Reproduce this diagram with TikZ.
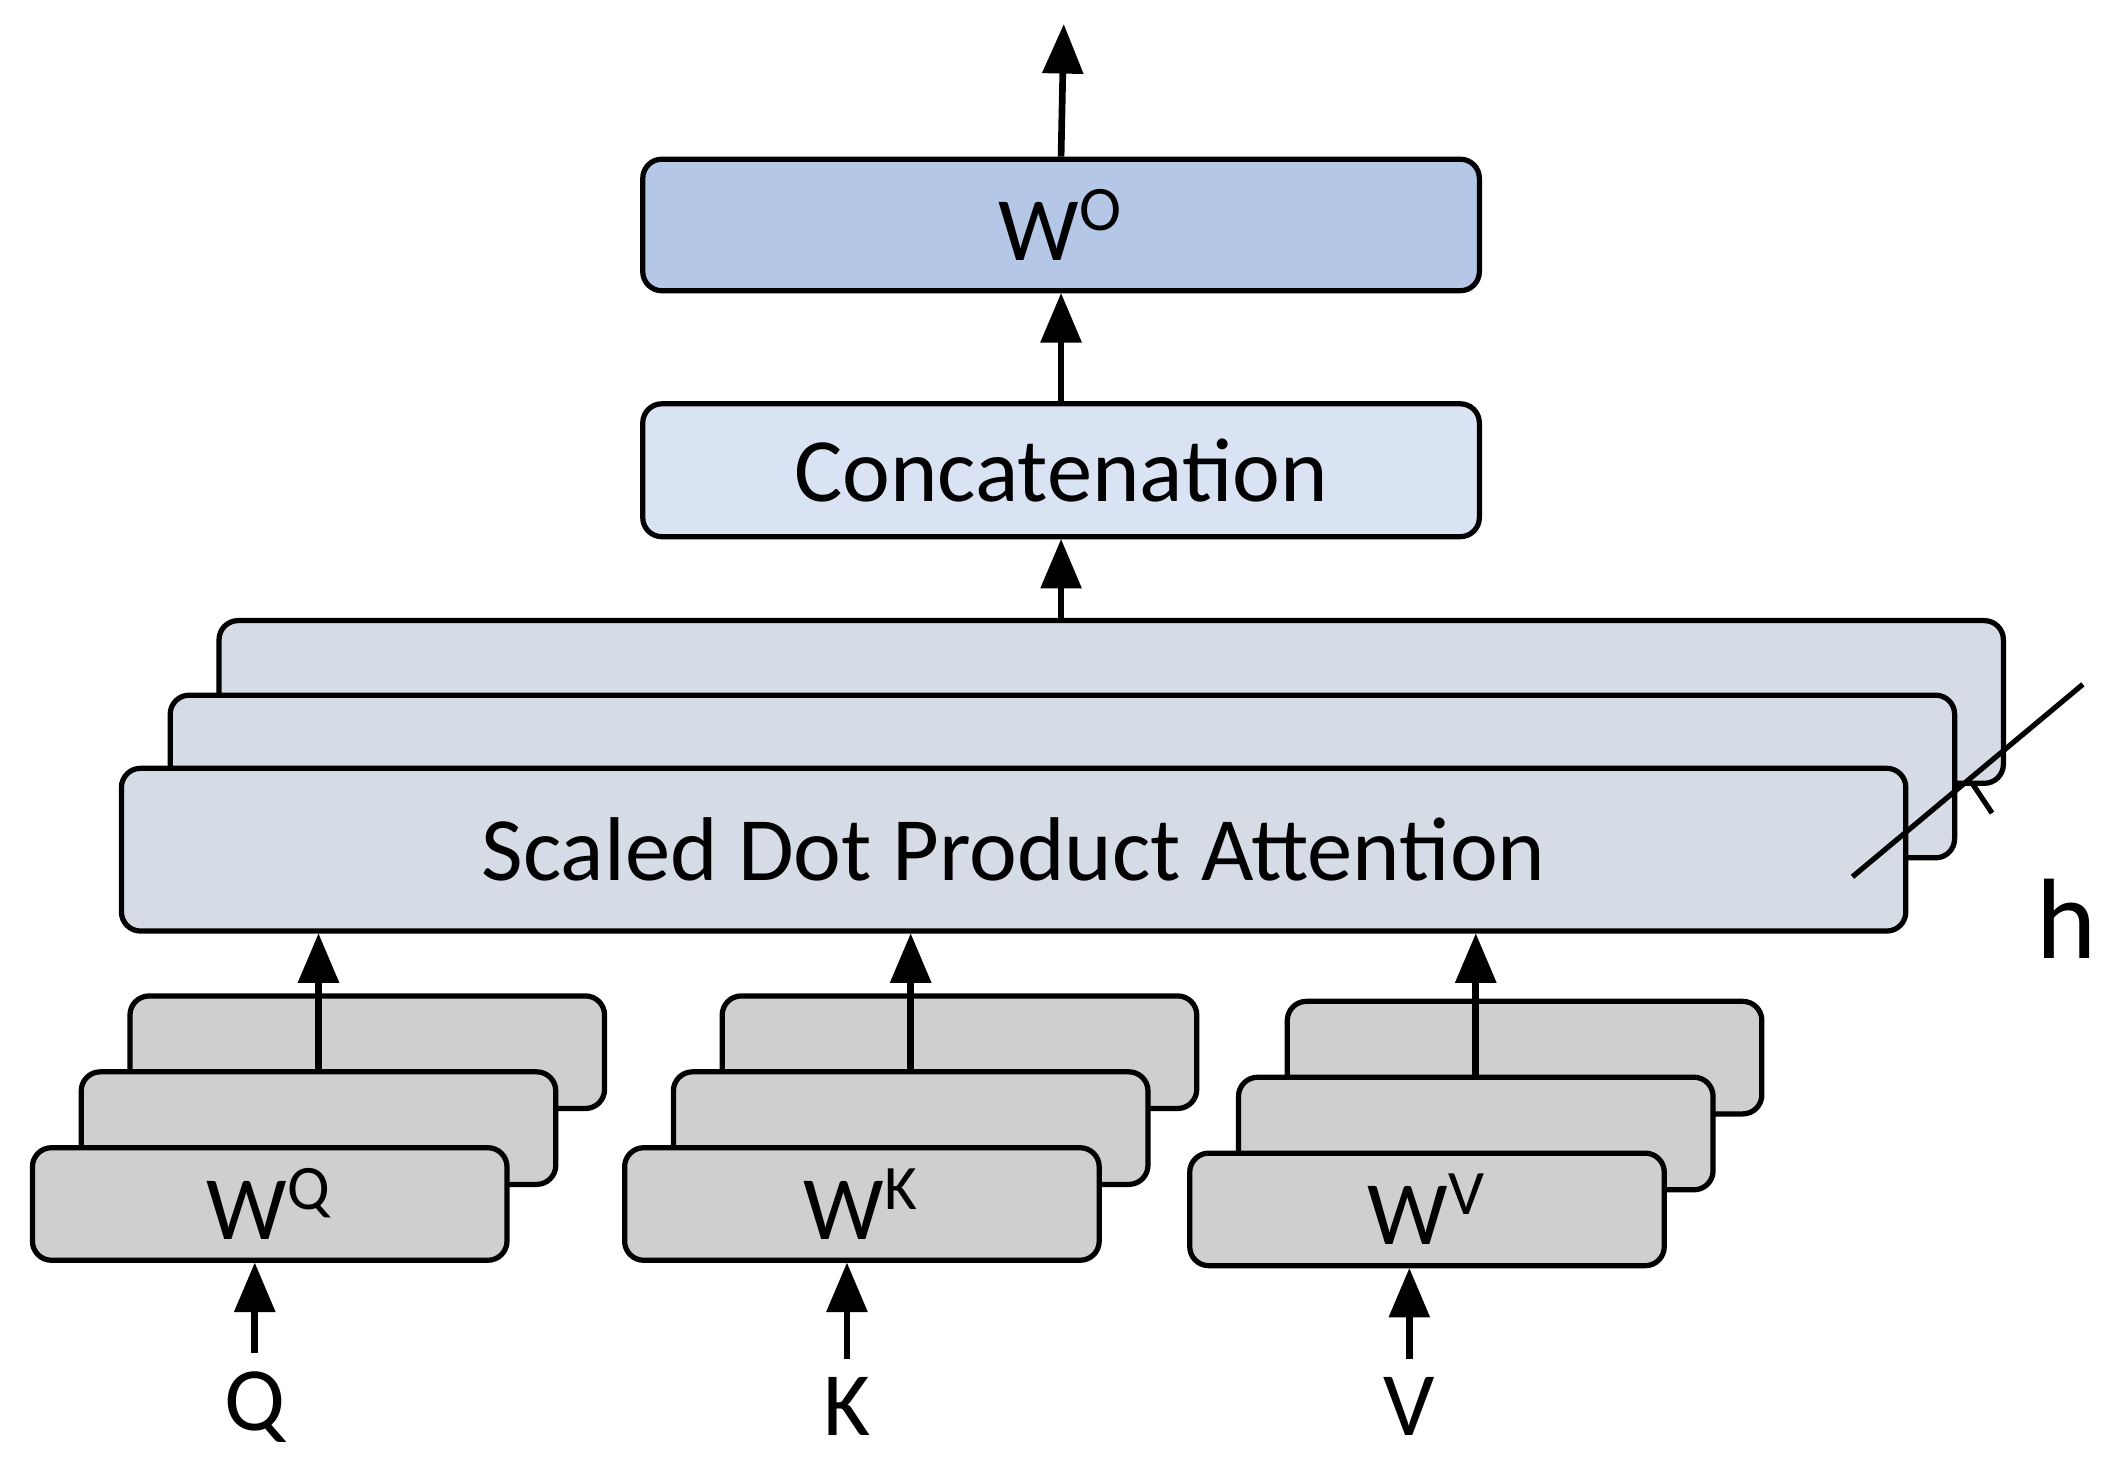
\documentclass[tikz,border=0pt]{standalone}
\usepackage{fontspec}
\setmainfont{Carlito}
\usepackage{xcolor}
\usetikzlibrary{arrows,positioning}
\definecolor{OutBlue}{RGB}{180,199,231}
\definecolor{CatBlue}{RGB}{218,227,243}
\definecolor{AttGray}{RGB}{214,220,229}
\definecolor{LinGray}{RGB}{208,206,206}

\begin{document}
\begin{tikzpicture}[>=triangle 45, x=0.01cm, y=-0.01cm, line width=1.1pt,
	   every node/.style={font=\fontsize{19}{22}\selectfont},
	   block/.style 2 args = {rectangle, rounded corners=4pt, draw=black, fill=#2,
	                          minimum width=#1, inner sep=0pt},
	   flow/.style = {->, line width=1.4pt}]
	\useasboundingbox (0,0) rectangle (1560,1075);
	%% Output layers
	\node [block={617\pgfuseunit}{OutBlue}, minimum width=6.17cm, minimum height=0.97cm] (wo) at (783,166) {W\textsuperscript{O}};
	\node [block={}{CatBlue}, minimum width=6.17cm, minimum height=0.98cm] (concat) at (783,347) {Concatenation};
	\coordinate (out) at (785,18);

	%% Attention heads
	\node [block={}{AttGray}, minimum width=13.16cm, minimum height=1.2cm] (att3) at (820,518) {};
	\node [block={}{AttGray}, minimum width=13.16cm, minimum height=1.2cm] (att2) at (784,573) {};
	\node [block={}{AttGray}, minimum width=13.16cm, minimum height=1.2cm] (att1) at (748,627) {Scaled Dot Product Attention};
	\draw (1367,647) -- (1537,505);
	\draw (1456,579) -- (1470,600);
	\node (h) at (1525,678) {\fontsize{24}{28}\selectfont h};

	%% Linear projections
	\foreach \n/\x/\y/\lbl in {q/22/845/Q, k/459/845/K, v/876/849/V} {
		\node [block={}{LinGray}, minimum width=3.5cm, minimum height=0.83cm, anchor=north west] (w\n3) at (\x+72,\y-112) {};
		\node [block={}{LinGray}, minimum width=3.5cm, minimum height=0.83cm, anchor=north west] (w\n2) at (\x+36,\y-56) {};
		\node [block={}{LinGray}, minimum width=3.5cm, minimum height=0.83cm, anchor=north west] (w\n1) at (\x,\y) {W\textsuperscript{\lbl}};
	}
	\node (q) at (188,1038) {Q};
	\node (k) at (625,1038) {K};
	\node (v) at (1040,1038) {V};

	%% Arrows
	\draw[flow] (wo.north) -- (out);
	\draw[flow] (concat.north) -- (wo.south);
	\draw[flow] (att3.north -| concat.south) -- (concat.south);
	\foreach \n in {q,k,v} {
		\draw[flow] (w\n2.north) -- (w\n2.north |- att1.south);
		\draw[flow] (\n.north) -- (\n.north |- w\n1.south);
	}
\end{tikzpicture}
\end{document}
